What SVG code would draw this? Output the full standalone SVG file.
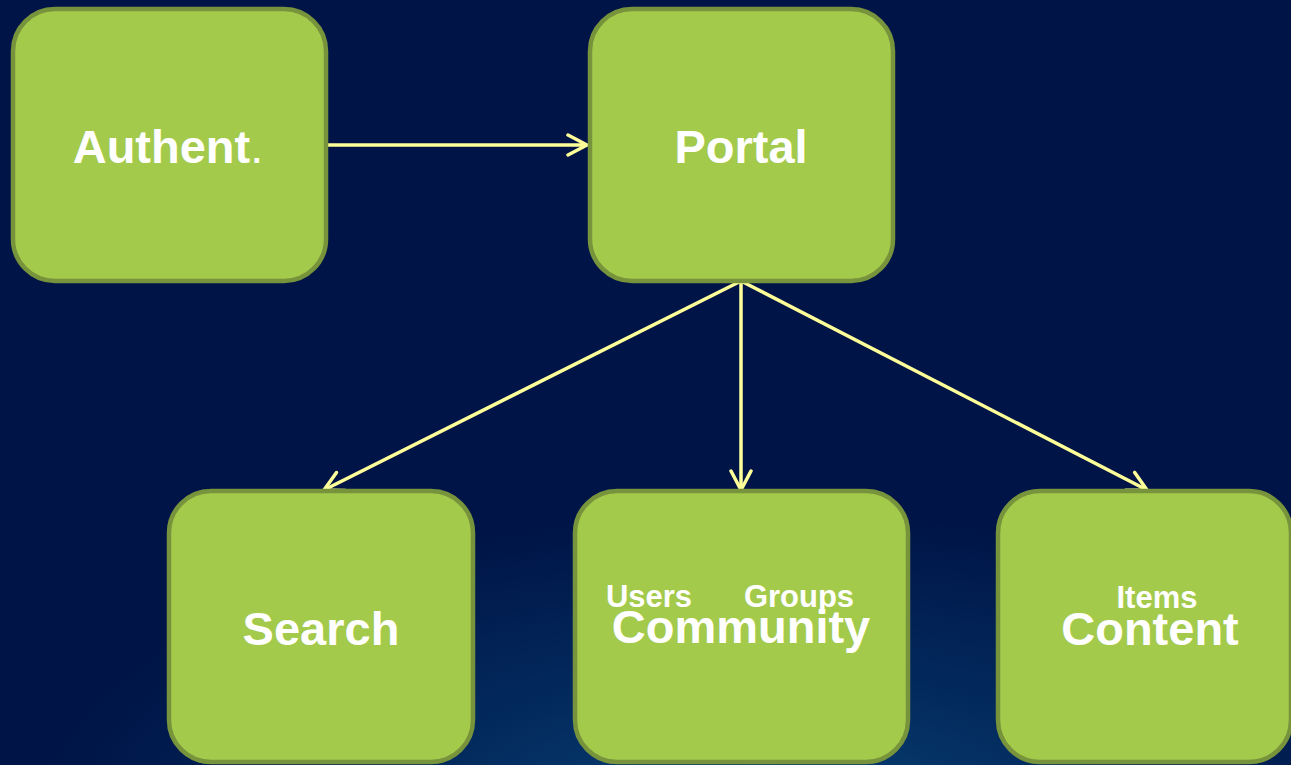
<svg xmlns="http://www.w3.org/2000/svg" width="1291" height="765" viewBox="0 0 1291 765">
  <defs>
    <radialGradient id="bg" cx="760" cy="820" r="560" gradientUnits="userSpaceOnUse" gradientTransform="translate(760 820) scale(1.3 0.55) translate(-760 -820)">
      <stop offset="0" stop-color="#0a4478"/>
      <stop offset="0.45" stop-color="#032b5e"/>
      <stop offset="1" stop-color="#001447"/>
    </radialGradient>
    <marker id="arr" markerUnits="userSpaceOnUse" markerWidth="26" markerHeight="26" refX="21" refY="12" orient="auto">
      <path d="M2,2 L21,12 L2,22" fill="none" stroke="#FFFF99" stroke-width="3.5" stroke-linecap="round" stroke-linejoin="round"/>
    </marker>
    <style>
      .node rect { fill: #A4CA4C; stroke: #77933C; stroke-width: 4.5; }
      .big { font-family: "Liberation Sans", Arial, sans-serif; font-weight: bold; font-size: 47px; fill: #FFFFFF; text-anchor: middle; }
      .small { font-family: "Liberation Sans", Arial, sans-serif; font-weight: bold; font-size: 31px; fill: #FFFFFF; text-anchor: middle; }
      .conn { stroke: #FFFF99; stroke-width: 3.5; fill: none; marker-end: url(#arr); }
    </style>
  </defs>

  <rect x="0" y="0" width="1291" height="765" fill="#001447"/>
  <rect x="0" y="0" width="1291" height="765" fill="url(#bg)"/>

  <g id="connectors">
    <path class="conn" d="M328,145 L587,145"/>
    <path class="conn" d="M741,281 L324,490"/>
    <path class="conn" d="M741,281 L741,490"/>
    <path class="conn" d="M741,281 L1147,490"/>
  </g>

  <g id="node-authent" class="node">
    <rect x="13" y="9" width="313" height="272" rx="42" ry="42"/>
    <text class="big" x="168" y="163">Authent<tspan font-weight="normal">.</tspan></text>
  </g>

  <g id="node-portal" class="node">
    <rect x="590" y="9" width="303" height="272" rx="42" ry="42"/>
    <text class="big" x="741" y="163">Portal</text>
  </g>

  <g id="node-search" class="node">
    <rect x="169" y="491" width="304" height="271" rx="42" ry="42"/>
    <text class="big" x="321" y="645">Search</text>
  </g>

  <g id="node-community" class="node">
    <rect x="575" y="491" width="333" height="271" rx="42" ry="42"/>
    <text class="small" x="649" y="607">Users</text>
    <text class="small" x="799" y="607">Groups</text>
    <text class="big" x="741" y="643">Community</text>
  </g>

  <g id="node-content" class="node">
    <rect x="998" y="491" width="293" height="271" rx="42" ry="42"/>
    <text class="small" x="1157" y="608">Items</text>
    <text class="big" x="1150" y="645">Content</text>
  </g>
</svg>
